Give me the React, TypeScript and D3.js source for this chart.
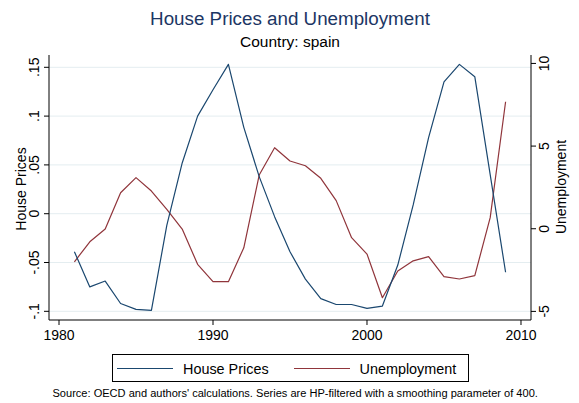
import React from "react";
import * as d3 from "d3";

const years = [1981,1982,1983,1984,1985,1986,1987,1988,1989,1990,1991,1992,1993,1994,1995,1996,1997,1998,1999,2000,2001,2002,2003,2004,2005,2006,2007,2008,2009];
const housePrices = [-0.039,-0.075,-0.069,-0.092,-0.098,-0.099,-0.012,0.052,0.100,0.127,0.153,0.0885,0.038,-0.003,-0.039,-0.067,-0.087,-0.093,-0.093,-0.097,-0.0946,-0.0526,0.009,0.078,0.135,0.153,0.1404,0.040,-0.060];
const unemployment = [-2.0,-0.79,-0.02,2.18,3.09,2.28,1.17,-0.02,-2.15,-3.2,-3.2,-1.15,3.25,4.9,4.1,3.81,3.05,1.7,-0.54,-1.53,-4.17,-2.56,-1.94,-1.69,-2.9,-3.04,-2.84,0.67,7.68];
const xTicks = [1980,1990,2000,2010];
const leftTicks = [-0.1,-0.05,0,0.05,0.1,0.15];
const leftTickLabels = ["-.1","-.05","0",".05",".1",".15"];
const rightTicks = [-5,0,5,10];
const rightTickLabels = ["-5","0","5","10"];

const BLUE = "#1a476f";
const RED = "#90353b";
const FONT = "'Liberation Sans', Arial, Helvetica, sans-serif";

export default function App() {
  const L = 49, R = 531, T = 55, B = 320;
  const x = d3.scaleLinear().domain([1979.35, 2010.65]).range([L, R]);
  const yL = d3.scaleLinear().domain([-0.1089, 0.1626]).range([B, T]);
  const yR = d3.scaleLinear().domain([-5.52, 10.51]).range([B, T]);

  const lineHP = d3.line<number>().x((_, i) => x(years[i])).y((d) => yL(d));
  const lineU = d3.line<number>().x((_, i) => x(years[i])).y((d) => yR(d));

  return (
    <svg width={579} height={403} style={{ position: "absolute", left: 0, top: 0, background: "#fff" }} fontFamily={FONT}>
      <rect x={0} y={0} width={579} height={403} fill="#fff" />
      <text x={290} y={25} textAnchor="middle" fontSize={18.8} fill="#1c3664">House Prices and Unemployment</text>
      <text x={290} y={46.5} textAnchor="middle" fontSize={15.5} fill="#000">Country: spain</text>

      {leftTicks.map((t) => (
        <line key={"g" + t} x1={L} x2={R} y1={yL(t)} y2={yL(t)} stroke="#e4edf0" strokeWidth={1} />
      ))}

      <path d={lineU(unemployment) || ""} fill="none" stroke={RED} strokeWidth={1.2} strokeLinejoin="round" />
      <path d={lineHP(housePrices) || ""} fill="none" stroke={BLUE} strokeWidth={1.2} strokeLinejoin="round" />

      <line x1={L} x2={L} y1={T} y2={B} stroke="#000" strokeWidth={1} />
      <line x1={R} x2={R} y1={T} y2={B} stroke="#000" strokeWidth={1} />
      <line x1={L} x2={R} y1={B} y2={B} stroke="#000" strokeWidth={1} />

      {leftTicks.map((t, i) => (
        <g key={"l" + t}>
          <line x1={L - 5} x2={L} y1={yL(t)} y2={yL(t)} stroke="#000" />
          <text transform={`translate(38.5,${yL(t)}) rotate(-90)`} textAnchor="middle" fontSize={14} fill="#000">{leftTickLabels[i]}</text>
        </g>
      ))}
      {rightTicks.map((t, i) => (
        <g key={"r" + t}>
          <line x1={R} x2={R + 5} y1={yR(t)} y2={yR(t)} stroke="#000" />
          <text transform={`translate(548.5,${yR(t)}) rotate(-90)`} textAnchor="middle" fontSize={14} fill="#000">{rightTickLabels[i]}</text>
        </g>
      ))}
      {xTicks.map((t) => (
        <g key={"x" + t}>
          <line x1={x(t)} x2={x(t)} y1={B} y2={B + 5} stroke="#000" />
          <text x={x(t)} y={340} textAnchor="middle" fontSize={14} fill="#000">{t}</text>
        </g>
      ))}

      <text transform={`translate(26,189) rotate(-90)`} textAnchor="middle" fontSize={14} fill="#000">House Prices</text>
      <text transform={`translate(566,187) rotate(-90)`} textAnchor="middle" fontSize={14} fill="#000">Unemployment</text>

      <rect x={112.5} y={354.5} width={356} height={27} fill="#fff" stroke="#000" strokeWidth={1} />
      <line x1={117} x2={173} y1={368.5} y2={368.5} stroke={BLUE} strokeWidth={1.2} />
      <text x={183} y={373.5} fontSize={14.4} fill="#000">House Prices</text>
      <line x1={294} x2={350} y1={368.5} y2={368.5} stroke={RED} strokeWidth={1.2} />
      <text x={359.5} y={373.5} fontSize={14.4} fill="#000">Unemployment</text>

      <text x={52.5} y={397} fontSize={11.05} fill="#000">Source: OECD and authors' calculations. Series are HP-filtered with a smoothing parameter of 400.</text>
    </svg>
  );
}
